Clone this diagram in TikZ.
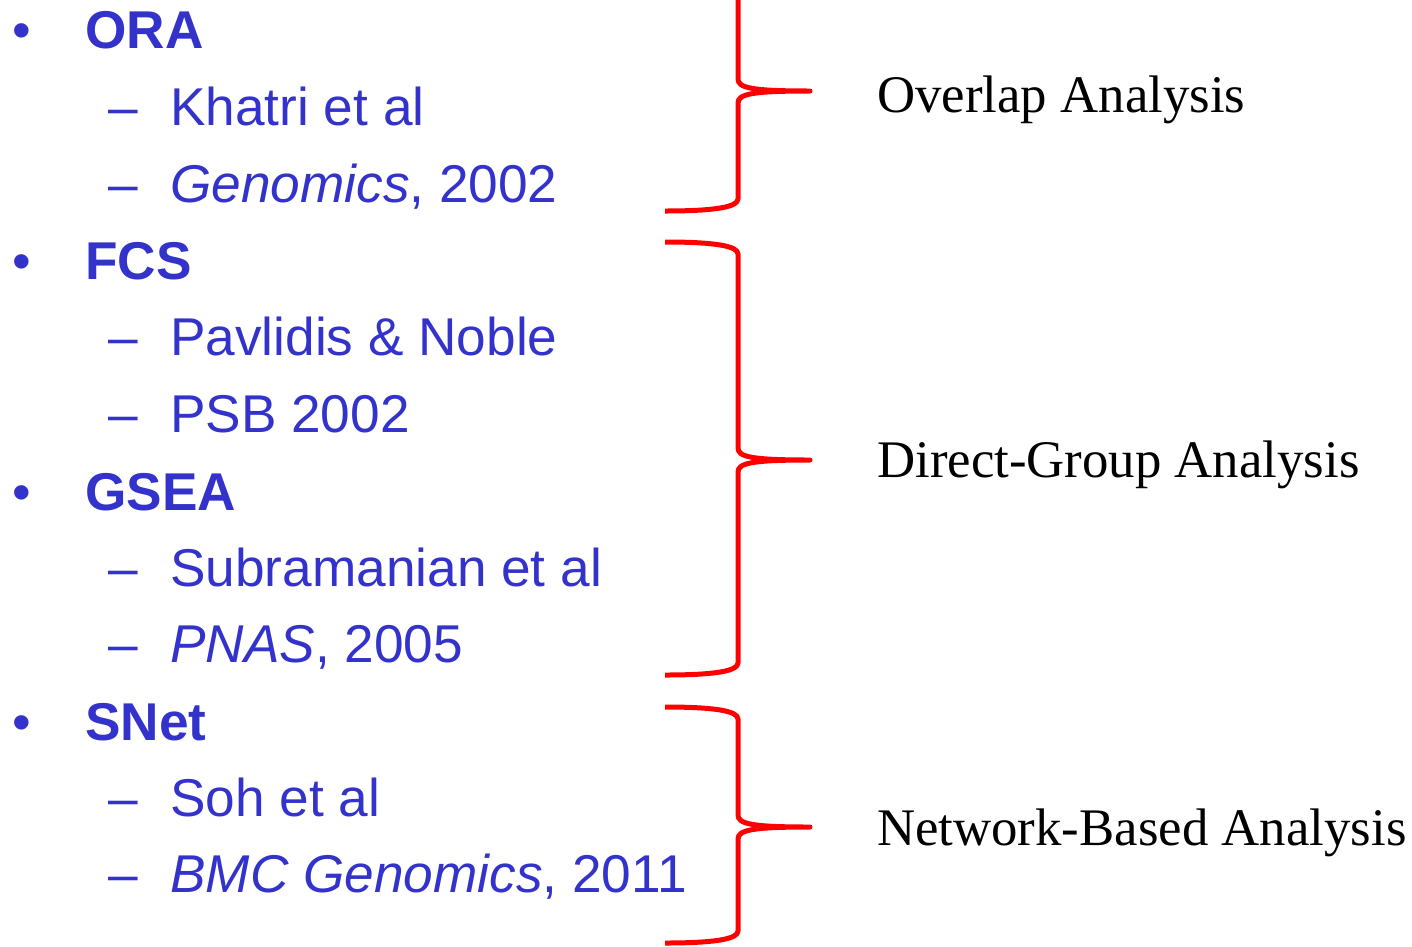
\documentclass[tikz,border=0pt]{standalone}
\usepackage{fontspec}
\setmainfont{Liberation Serif}
\newfontfamily\arialish{Liberation Sans}
\definecolor{itemblue}{HTML}{3333CC}
\definecolor{bracered}{HTML}{FF0000}
\tikzset{
  lbl/.style={anchor=base west, inner sep=0pt, text=itemblue, font=\arialish\fontsize{53.2}{60}\selectfont},
  head/.style={lbl, font=\arialish\bfseries\fontsize{53.2}{60}\selectfont},
  group/.style={anchor=base west, inner sep=0pt, font=\fontsize{52.8}{60}\selectfont},
  bracepath/.style={draw=bracered, line width=5pt, line cap=butt, line join=round}
}
% curly brace: vertical stroke at x=738, open ends to the left at x=665, tip to the right at x=810
\newcommand\groupbrace[3]{%
  \path[bracepath] (665,#3) .. controls (715,#3) and (738,#3-4) .. (738,#3-12)
    -- (738,#2+12) .. controls (738,#2+3) and (752,#2) .. (810,#2)
    .. controls (752,#2) and (738,#2-3) .. (738,#2-12)
    -- (738,#1+12) .. controls (738,#1+4) and (715,#1) .. (665,#1);}
\begin{document}
\begin{tikzpicture}[x=1pt,y=-1pt]
\useasboundingbox (0,0) rectangle (1412,946);
% left column: bullets and sub-items
\foreach \y/\nm in {48/b1,279/b2,510/b3,740/b4}
  \node[lbl] (\nm) at (12,\y) {•};
\foreach \y/\nm in {125/d1,202/d2,355/d3,432/d4,586/d5,662/d6,816/d7,892/d8}
  \node[lbl] (\nm) at (108,\y) {–};
\node[head] (ora) at (85,48) {ORA};
\node[lbl] (khatri) at (170,125) {Khatri et al};
\node[lbl] (genom) at (170,202) {\itshape Genomics\upshape, 2002};
\node[head] (fcs) at (85,279) {FCS};
\node[lbl] (pavl) at (170,355) {Pavlidis \& Noble};
\node[lbl] (psb) at (170,432) {PSB 2002};
\node[head] (gsea) at (85,510) {GSEA};
\node[lbl] (subr) at (170,586) {Subramanian et al};
\node[lbl] (pnas) at (170,662) {\itshape PNAS\upshape, 2005};
\node[head] (snet) at (85,740) {SNet};
\node[lbl] (soh) at (170,816) {Soh et al};
\node[lbl] (bmc) at (170,892) {\itshape BMC Genomics\upshape, 2011};
% braces
\groupbrace{-30}{91}{211}
\groupbrace{242}{460}{675}
\groupbrace{707}{827}{943}
% group labels
\node[group] (g1) at (877,112) {Overlap Analysis};
\node[group] (g2) at (877,477) {Direct-Group Analysis};
\node[group] (g3) at (877,845) {Network-Based Analysis};
\end{tikzpicture}
\end{document}
